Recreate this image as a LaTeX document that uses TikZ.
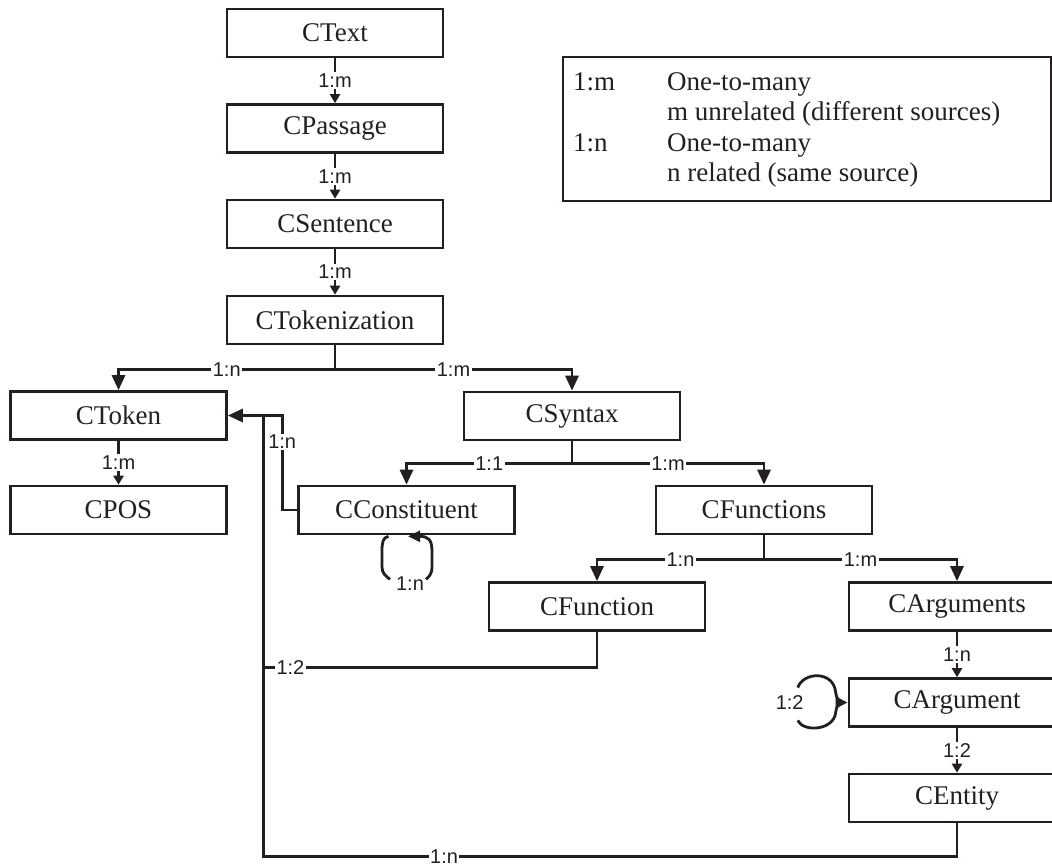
\documentclass[tikz,border=0pt]{standalone}
\usepackage{fontspec}
\setmainfont{Liberation Serif}
\newfontfamily\lblfont{Liberation Sans}
\usetikzlibrary{arrows.meta,calc}
\definecolor{ink}{HTML}{231F20}
\begin{document}
\begin{tikzpicture}[x=1pt,y=-1pt,
  box/.style={draw=ink, line width=2.6pt, minimum width=216pt, minimum height=48pt,
    inner sep=0pt, font=\fontsize{27}{30}\selectfont, text=ink},
  lbl/.style={fill=white, inner sep=1.5pt, font=\lblfont\fontsize{20}{21}\selectfont, text=ink},
  wire/.style={draw=ink, line width=2.8pt},
  stem/.style={draw=ink, line width=2.2pt, -{Triangle[length=9pt,width=10pt]}},
  bigtip/.style={-{Triangle[length=15pt,width=13pt]}},
  looptip/.style={-{Triangle[length=12pt,width=11pt]}},
  legtext/.style={anchor=base west, inner sep=0pt, font=\fontsize{27}{30}\selectfont, text=ink},
]
\useasboundingbox (0,0) rectangle (1052,867);
\clip (0,0) rectangle (1052,867);

% class boxes
\node[box] (ctext)    at (335,33)    {CText};
\node[box] (cpassage) at (335,128.5) {CPassage};
\node[box] (csent)    at (335,224)   {CSentence};
\node[box] (ctokz)    at (335,320)   {CTokenization};
\node[box] (ctoken)   at (118.5,415.5) {CToken};
\node[box] (cpos)     at (118.5,510) {CPOS};
\node[box] (csyntax)  at (572,416)   {CSyntax};
\node[box] (cconst)   at (406.5,510) {CConstituent};
\node[box] (cfuncs)   at (764,510)   {CFunctions};
\node[box] (cfunc)    at (597,606.5) {CFunction};
\node[box] (cargs)    at (957,606.5) {CArguments};
\node[box] (carg)     at (957,702.5) {CArgument};
\node[box] (centity)  at (957,798)   {CEntity};

% legend
\node[draw=ink, line width=2.2pt, minimum width=488pt, minimum height=144pt,
      inner sep=0pt, anchor=north west] (legend) at (562,56) {};
\node[legtext] at ($(legend.north west)+(11,34)$)   {1:m};
\node[legtext] at ($(legend.north west)+(105,34)$)  {One-to-many};
\node[legtext] at ($(legend.north west)+(105,64.5)$) {m unrelated (different sources)};
\node[legtext] at ($(legend.north west)+(11,95)$)   {1:n};
\node[legtext] at ($(legend.north west)+(105,95)$)  {One-to-many};
\node[legtext] at ($(legend.north west)+(105,125.5)$) {n related (same source)};

% straight one-to-many links
\draw[stem] (ctext)   -- node[lbl]{1:m} (cpassage);
\draw[stem] (cpassage)-- node[lbl]{1:m} (csent);
\draw[stem] (csent)   -- node[lbl]{1:m} (ctokz);
\draw[stem] (ctoken)  -- node[lbl]{1:m} (cpos);
\draw[stem] (cargs)   -- node[lbl]{1:n} (carg);
\draw[stem] (carg)    -- node[lbl]{1:2} (centity);

% forks
\coordinate (tokfork) at ($(ctokz.south)+(0,24)$);
\draw[wire] (ctokz.south) -- (tokfork);
\draw[wire,bigtip] (tokfork) -| node[lbl,pos=0.25]{1:n} (ctoken.north);
\draw[wire,bigtip] (tokfork) -| node[lbl,pos=0.25]{1:m} (csyntax.north);

\coordinate (synfork) at ($(csyntax.south)+(0,22)$);
\draw[wire] (csyntax.south) -- (synfork);
\draw[wire,bigtip] (synfork) -| node[lbl,pos=0.25]{1:1} (cconst.north);
\draw[wire,bigtip] (synfork) -| node[lbl,pos=0.25]{1:m} (cfuncs.north);

\coordinate (funfork) at ($(cfuncs.south)+(0,24)$);
\draw[wire] (cfuncs.south) -- (funfork);
\draw[wire,bigtip] (funfork) -| node[lbl,pos=0.25]{1:n} (cfunc.north);
\draw[wire,bigtip] (funfork) -| node[lbl,pos=0.25]{1:m} (cargs.north);

% links back to CToken
\coordinate (cbend) at ($(cconst.west)+(-15,0)$);
\draw[wire,bigtip] (cconst.west) -- (cbend) |- node[lbl,pos=0.36]{1:n} (ctoken.east);
\coordinate (trunk) at ($(ctoken.east)+(36,0)$);
\draw[wire] (cfunc.south) -- ++(0,36) -| node[lbl,pos=0.46]{1:2} (trunk);
\draw[wire] (centity.south) -- ++(0,33) -| node[lbl,pos=0.37]{1:n} (trunk);

% self-loop on CConstituent
\draw[wire] ($(cconst.south)+(-18,1)$) .. controls +(-6,1) and +(0,-8) .. ++(-6.5,15)
  -- ++(0,16) .. controls +(0,6) and +(-4,-3) .. ++(8,12);
\draw[wire,looptip] ($(cconst.south)+(19.5,44)$) .. controls +(4,-3) and +(0,5) .. ++(6,-12)
  -- ++(0,-16) .. controls +(0,-12) and +(20,0) .. ($(cconst.south)+(1.5,1)$);
\node[lbl,fill=none] (cclbl) at ($(cconst.south)+(3.5,48)$) {1:n};

% self-loop on CArgument
\draw[wire,looptip] ($(carg.west)+(-50,-15)$) .. controls +(6,-16) and +(-2,-22) .. ($(carg.west)+(-12,-10)$)
  .. controls +(1,8) and +(-6,0) .. (carg.west);
\draw[wire] ($(carg.west)+(-50,18)$) .. controls +(6,12) and +(-2,18) .. ($(carg.west)+(-12,10)$)
  .. controls +(1,-6) .. ($(carg.west)+(-7,1)$);
\node[lbl,fill=none] (calbl) at ($(carg.west)+(-58,0)$) {1:2};
\end{tikzpicture}
\end{document}
